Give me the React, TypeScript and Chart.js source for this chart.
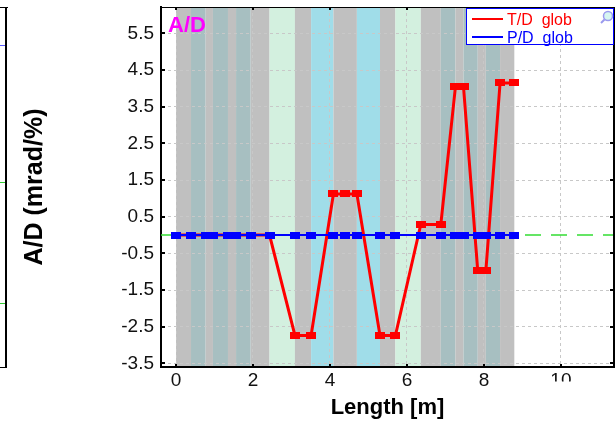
import React, { useEffect, useRef } from "react";
import { Chart, registerables } from "chart.js";

Chart.register(...registerables);

// ---- data ----
const positions = [0, 0.39, 0.77, 0.96, 1.35, 1.56, 1.94, 2.43, 3.09, 3.51, 4.09, 4.39, 4.7, 5.3, 5.7, 6.36, 6.88, 7.26, 7.47, 7.84, 8.05, 8.42, 8.79];
const tdGlob = [0, 0, 0, 0, 0, 0, 0, 0, -2.74, -2.74, 1.12, 1.12, 1.12, -2.74, -2.74, 0.29, 0.29, 4.04, 4.04, -0.98, -0.98, 4.15, 4.15];
const pdGlob = [0, 0, 0, 0, 0, 0, 0, 0, 0, 0, 0, 0, 0, 0, 0, 0, 0, 0, 0, 0, 0, 0, 0];
const bandEdges = [0, 0.39, 0.77, 0.96, 1.35, 1.56, 1.94, 2.43, 3.09, 3.51, 4.09, 4.7, 5.3, 5.7, 6.36, 6.88, 7.26, 7.47, 7.84, 8.05, 8.42, 8.79];
const bandKinds = ["gray", "teal", "gray", "teal", "gray", "teal", "gray", "green", "gray", "blue", "gray", "blue", "gray", "green", "gray", "teal", "gray", "teal", "gray", "teal", "gray"];
const bandColors: Record<string, string> = { gray: "#c0c0c0", teal: "#a7bfc1", green: "#d3f0df", blue: "#a0dde9" };
const xTicks = [0, 2, 4, 6, 8, 10];
const yTicks = [-3.5, -2.5, -1.5, -0.5, 0.5, 1.5, 2.5, 3.5, 4.5, 5.5];
const xMin = -0.39;
const xMax = 11.38;
const yMin = -3.6;
const yMax = 6.22;
const refLevel = 0;
const plotTitle = "A/D";
const yTitle = "A/D (mrad/%)";
const xTitle = "Length [m]";

const FONT = "'Liberation Sans', Arial, sans-serif";

function makeRect(color: string, w: number, h: number) {
  const c = document.createElement("canvas");
  c.width = w;
  c.height = h;
  const g = c.getContext("2d")!;
  g.fillStyle = color;
  g.fillRect(0, 0, w, h);
  return c;
}

const bandsPlugin = {
  id: "bands",
  beforeDraw(chart: any) {
    const { ctx, chartArea, scales } = chart;
    const x = scales.x;
    ctx.save();
    for (let i = 0; i < bandKinds.length; i++) {
      const x1 = x.getPixelForValue(bandEdges[i]);
      const x2 = x.getPixelForValue(bandEdges[i + 1]);
      ctx.fillStyle = bandColors[bandKinds[i]];
      ctx.fillRect(x1, chartArea.top, x2 - x1, chartArea.bottom - chartArea.top);
    }
    ctx.restore();
  },
};

const decorPlugin = {
  id: "decor",
  afterDraw(chart: any) {
    const { ctx, chartArea, scales } = chart;
    const { left, right, top, bottom } = chartArea;
    ctx.save();
    // top & right frame
    ctx.strokeStyle = "#000";
    ctx.lineWidth = 1;
    ctx.beginPath();
    ctx.moveTo(left, top + 0.5);
    ctx.lineTo(right, top + 0.5);
    ctx.stroke();
    ctx.lineWidth = 2;
    ctx.beginPath();
    ctx.moveTo(right, top);
    ctx.lineTo(right, bottom);
    ctx.stroke();
    // inner ticks
    ctx.lineWidth = 2;
    yTicks.forEach((v) => {
      const y = Math.round(scales.y.getPixelForValue(v));
      ctx.beginPath();
      ctx.moveTo(left, y);
      ctx.lineTo(left + 4, y);
      ctx.moveTo(right - 4, y);
      ctx.lineTo(right, y);
      ctx.stroke();
    });
    xTicks.forEach((v) => {
      const x = Math.round(scales.x.getPixelForValue(v));
      ctx.beginPath();
      ctx.moveTo(x, top);
      ctx.lineTo(x, top + 3);
      ctx.moveTo(x, bottom - 3);
      ctx.lineTo(x, bottom);
      ctx.stroke();
    });
    // plot title
    ctx.fillStyle = "#ff00ff";
    ctx.font = `bold 22px ${FONT}`;
    ctx.textBaseline = "alphabetic";
    ctx.textAlign = "left";
    ctx.fillText(plotTitle, left + 7, top + 25);
    // legend
    const bx = right - 148;
    const by = top + 1;
    ctx.fillStyle = "#fff";
    ctx.fillRect(bx, by, 148, 37);
    ctx.strokeStyle = "#0000ff";
    ctx.lineWidth = 1;
    ctx.strokeRect(bx + 0.5, by + 0.5, 147, 36);
    const legendSets = chart.data.datasets.filter((d: any) => d.inLegend);
    ctx.font = `16px ${FONT}`;
    legendSets.forEach((d: any, i: number) => {
      const cy = by + 11 + i * 18;
      ctx.strokeStyle = d.borderColor;
      ctx.lineWidth = 2;
      ctx.beginPath();
      ctx.moveTo(bx + 6, cy);
      ctx.lineTo(bx + 37, cy);
      ctx.stroke();
      ctx.fillStyle = d.borderColor;
      ctx.fillText(d.label, bx + 41, cy + 5.5);
    });
    // magnifier icon
    ctx.strokeStyle = "#9a9aee";
    ctx.fillStyle = "#d6f6f0";
    ctx.lineWidth = 1.5;
    ctx.beginPath();
    ctx.arc(right - 6, top + 9, 4.5, 0, Math.PI * 2);
    ctx.fill();
    ctx.stroke();
    ctx.lineWidth = 2;
    ctx.beginPath();
    ctx.moveTo(right - 9.5, top + 12.5);
    ctx.lineTo(right - 13, top + 16);
    ctx.stroke();
    // partially hidden last x label
    const x10 = scales.x.getPixelForValue(10);
    ctx.fillStyle = "#fff";
    ctx.fillRect(x10 - 20, bottom + 14.5, 40, 12);
    // neighbouring panel edge on the left
    ctx.strokeStyle = "#000";
    ctx.lineWidth = 2;
    ctx.beginPath();
    ctx.moveTo(6, top);
    ctx.lineTo(6, bottom + 1);
    ctx.stroke();
    ctx.lineWidth = 1;
    ctx.beginPath();
    ctx.moveTo(0, top + 0.5);
    ctx.lineTo(8, top + 0.5);
    ctx.moveTo(0, bottom + 0.5);
    ctx.lineTo(7, bottom + 0.5);
    ctx.stroke();
    ctx.strokeStyle = "#5a5aff";
    ctx.beginPath();
    ctx.moveTo(0, 45.5);
    ctx.lineTo(5, 45.5);
    ctx.stroke();
    ctx.strokeStyle = "#33cc33";
    ctx.beginPath();
    ctx.moveTo(0, 182.5);
    ctx.lineTo(5, 182.5);
    ctx.moveTo(0, 303.5);
    ctx.lineTo(5, 303.5);
    ctx.stroke();
    ctx.restore();
  },
};

export default function App() {
  const ref = useRef<HTMLCanvasElement | null>(null);
  useEffect(() => {
    if (!ref.current) return;
    const redRect = makeRect("#ff0000", 10, 7);
    const blueRect = makeRect("#0000ff", 10, 7);
    const chart = new Chart(ref.current, {
      type: "line",
      data: {
        datasets: [
          {
            label: "T/D  glob",
            inLegend: true,
            data: positions.map((x, i) => ({ x, y: tdGlob[i] })),
            borderColor: "#ff0000",
            backgroundColor: "#ff0000",
            borderWidth: 3,
            pointStyle: redRect,
            pointRadius: 5,
            order: 1,
          },
          {
            label: "P/D  glob",
            inLegend: true,
            data: positions.map((x, i) => ({ x, y: pdGlob[i] })),
            borderColor: "#0000ff",
            backgroundColor: "#0000ff",
            borderWidth: 2,
            pointStyle: blueRect,
            pointRadius: 5,
            order: 0,
          },
          {
            label: "ref",
            inLegend: false,
            data: [
              { x: xMin, y: refLevel },
              { x: xMax, y: refLevel },
            ],
            borderColor: "#33dd33",
            borderWidth: 1.5,
            borderDash: [16, 10],
            pointRadius: 0,
            order: 2,
          },
        ] as any,
      },
      options: {
        animation: false,
        responsive: false,
        devicePixelRatio: 1,
        layout: { autoPadding: false, padding: { top: 7, right: 1, left: 0, bottom: 0 } },
        plugins: { legend: { display: false }, tooltip: { enabled: false } },
        scales: {
          x: {
            type: "linear",
            min: xMin,
            max: xMax,
            afterBuildTicks: (s: any) => {
              s.ticks = xTicks.map((v) => ({ value: v }));
            },
            afterFit: (s: any) => {
              s.height = 56;
              s.paddingLeft = 0;
              s.paddingRight = 0;
            },
            grid: { color: "#c8c8c8", drawTicks: false, lineWidth: 1 },
            border: { color: "#000", width: 2, dash: [3, 3] },
            ticks: {
              padding: 2,
              color: "#111",
              font: { family: FONT, size: 19 },
              maxRotation: 0,
              callback: (v: any) => String(v),
            },
            title: {
              display: true,
              text: xTitle,
              color: "#000",
              font: { family: FONT, size: 22, weight: "bold" },
              padding: { top: 0, bottom: 2 },
            },
          },
          y: {
            type: "linear",
            min: yMin,
            max: yMax,
            afterBuildTicks: (s: any) => {
              s.ticks = yTicks.map((v) => ({ value: v }));
            },
            afterFit: (s: any) => {
              s.width = 161;
              s.paddingTop = 0;
              s.paddingBottom = 0;
            },
            grid: { color: "#c8c8c8", drawTicks: false, lineWidth: 1 },
            border: { color: "#000", width: 2, dash: [3, 3] },
            ticks: {
              padding: 7,
              color: "#111",
              font: { family: FONT, size: 19 },
              callback: (v: any) => Number(v).toFixed(1),
            },
            title: {
              display: true,
              text: yTitle,
              color: "#000",
              font: { family: FONT, size: 25, weight: "bold" },
              padding: { top: 20, bottom: 0 },
            },
          },
        },
      } as any,
      plugins: [bandsPlugin, decorPlugin],
    });
    return () => chart.destroy();
  }, []);
  return (
    <div style={{ position: "fixed", left: 0, top: 0, width: 615, height: 423, background: "#fff" }}>
      <canvas ref={ref} width={615} height={423} style={{ display: "block" }} />
    </div>
  );
}
